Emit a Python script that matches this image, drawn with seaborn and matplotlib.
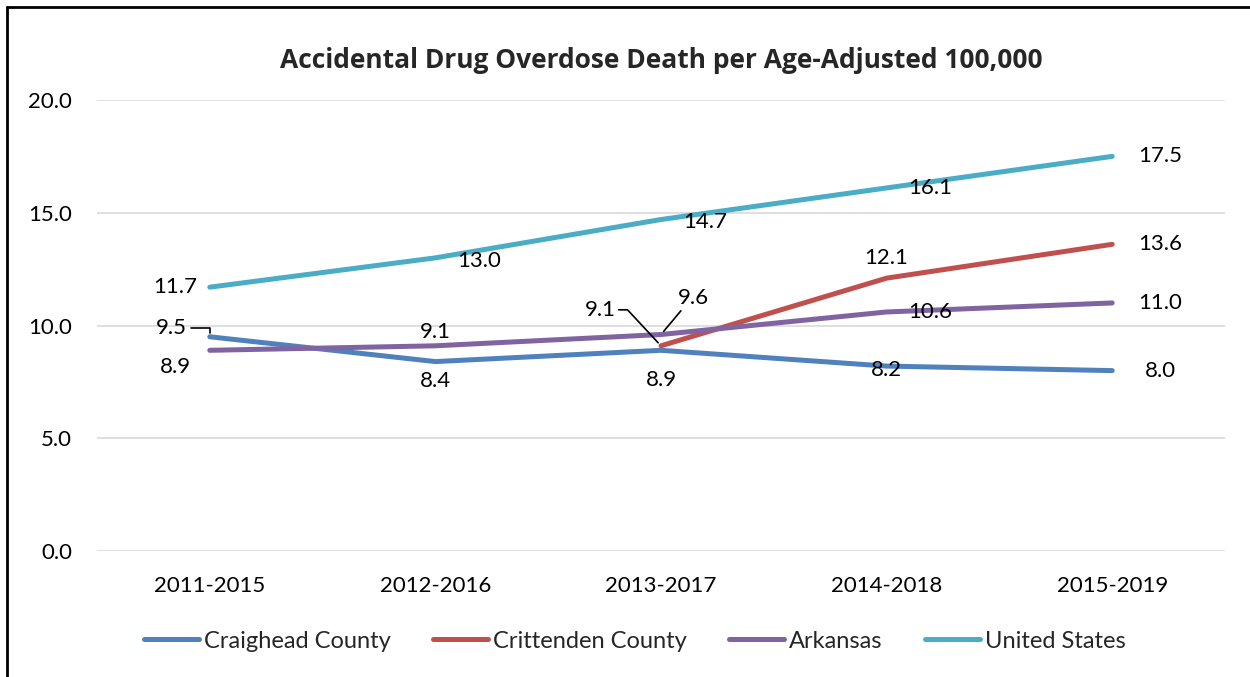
# Accidental drug overdose deaths, line chart with Excel-style data labels
import pandas as pd
import numpy as np
import matplotlib
matplotlib.use('Agg')
import matplotlib.pyplot as plt
import seaborn as sns
from matplotlib.lines import Line2D

periods = ['2011-2015', '2012-2016', '2013-2017', '2014-2018', '2015-2019']
craighead = [9.5, 8.4, 8.9, 8.2, 8.0]
crittenden = [np.nan, np.nan, 9.1, 12.1, 13.6]
arkansas = [8.9, 9.1, 9.6, 10.6, 11.0]
united_states = [11.7, 13.0, 14.7, 16.1, 17.5]

series_names = ['Craighead County', 'Crittenden County', 'Arkansas', 'United States']
series_values = [craighead, crittenden, arkansas, united_states]
colors = {'Craighead County': '#4F81BD', 'Crittenden County': '#C0504D',
          'Arkansas': '#8064A2', 'United States': '#4BACC6'}

sns.set_style('white')
plt.rcParams['font.family'] = ['Lato', 'DejaVu Sans']

rows = []
for name, vals in zip(series_names, series_values):
    for i, v in enumerate(vals):
        rows.append({'Period': i, 'Value': v, 'Series': name})
df = pd.DataFrame(rows).dropna()

fig = plt.figure(figsize=(12.5, 6.77), dpi=100)
ax = fig.add_axes([0.0776, 0.1861, 0.9024, 0.6662])

sns.lineplot(data=df, x='Period', y='Value', hue='Series', palette=colors,
             hue_order=series_names, linewidth=3.6, ax=ax, legend=False,
             sort=False, solid_capstyle='round')

ax.set_xlim(-0.5, 4.5)
ax.set_ylim(0, 20)
ax.set_yticks([0, 5, 10, 15, 20])
ax.set_yticklabels([f'{t:.1f}' for t in [0, 5, 10, 15, 20]])
ax.set_xticks(range(len(periods)))
ax.set_xticklabels(periods)
ax.tick_params(axis='both', length=0, labelsize=16, colors='black')
ax.tick_params(axis='y', pad=18)
ax.tick_params(axis='x', pad=18)
ax.yaxis.grid(True, color='#D9D9D9', linewidth=1.2)
ax.set_axisbelow(True)
for s in ax.spines.values():
    s.set_visible(False)
ax.set_xlabel('')
ax.set_ylabel('')

ax.set_title('Accidental Drug Overdose Death per Age-Adjusted 100,000',
             fontsize=19, fontweight='bold', pad=23,
             family=['Open Sans', 'DejaVu Sans'])

# label offsets in pixels (dx, dy)
offsets = {
    'United States': [(-35, 0), (44, -3), (44, -2), (44, 0), (48, 0)],
    'Craighead County': [(-38, 9), (0, -19), (0, -30), (0, -4), (48, 0)],
    'Arkansas': [(-34, -17), (0, 14), (32, 37), (44, 0), (48, 0)],
    'Crittenden County': [None, None, (-61, 36), (0, 20), (48, 0)],
}
leaders = {('Craighead County', 0): dict(connectionstyle='angle,angleA=0,angleB=90,rad=0', relpos=(1, 0.5)),
           ('Crittenden County', 2): dict(connectionstyle='arc,angleA=0,armA=12,rad=0', relpos=(1, 0.5)),
           ('Arkansas', 2): dict(connectionstyle='arc3', relpos=(0.2, 0.0))}

for name, vals in zip(series_names, series_values):
    for i, v in enumerate(vals):
        if np.isnan(v):
            continue
        dx, dy = offsets[name][i]
        kw = {}
        if (name, i) in leaders:
            ld = leaders[(name, i)]
            kw['arrowprops'] = dict(arrowstyle='-', color='black', lw=1.2,
                                    shrinkA=0, shrinkB=3,
                                    connectionstyle=ld['connectionstyle'],
                                    relpos=ld['relpos'])
        ax.annotate(f'{v:.1f}', xy=(i, v), xytext=(dx, dy),
                    textcoords='offset pixels', ha='center', va='center',
                    fontsize=16, color='black', **kw)

handles = [Line2D([0], [0], color=colors[n], lw=3.6, solid_capstyle='round')
           for n in series_names]
fig.legend(handles, series_names, loc='center', bbox_to_anchor=(0.508, 0.053),
           ncol=4, frameon=False, fontsize=17, handlelength=2.33,
           handletextpad=0.2, columnspacing=1.8)

# chart frame (left and top edges visible)
fig.add_artist(Line2D([0.0056, 0.0056], [0, 0.99], color='black', lw=2,
                      transform=fig.transFigure))
fig.add_artist(Line2D([0.0056, 1.0], [0.99, 0.99], color='black', lw=2,
                      transform=fig.transFigure))

fig.savefig('out.png', dpi=100)
